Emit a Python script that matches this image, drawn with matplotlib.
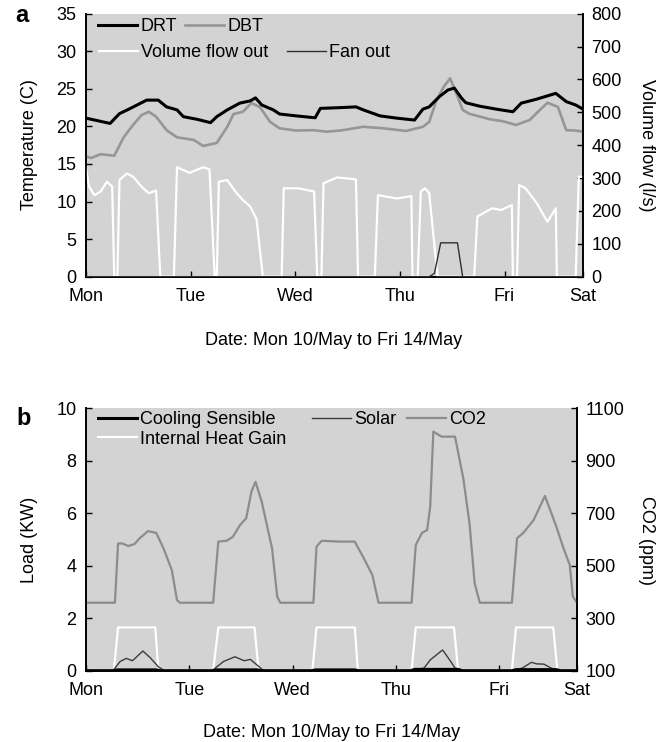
import matplotlib
matplotlib.use("Agg")
import matplotlib.pyplot as plt

# ---------------- data: panel a ----------------
drt_day = [0.0, 0.23, 0.32, 0.41, 0.58, 0.69, 0.77, 0.87, 0.93, 1.06, 1.19, 1.25, 1.35, 1.47, 1.57,
           1.62, 1.68, 1.79, 1.85, 2.01, 2.19, 2.24, 2.43, 2.58, 2.65, 2.81, 2.97, 3.14, 3.22, 3.28,
           3.38, 3.46, 3.52, 3.59, 3.63, 3.76, 3.92, 4.08, 4.16, 4.30, 4.49, 4.59, 4.68, 4.75]
drt_val = [21.1, 20.4, 21.7, 22.3, 23.5, 23.5, 22.6, 22.2, 21.3, 20.95, 20.5, 21.3, 22.2, 23.1, 23.4,
           23.8, 22.85, 22.2, 21.65, 21.4, 21.15, 22.4, 22.5, 22.6, 22.2, 21.4, 21.1, 20.85, 22.3, 22.6,
           24.0, 24.85, 25.1, 23.75, 23.15, 22.7, 22.3, 21.95, 23.1, 23.6, 24.4, 23.3, 22.85, 22.3]

dbt_day = [0.0, 0.05, 0.14, 0.27, 0.36, 0.45, 0.53, 0.60, 0.67, 0.77, 0.87, 1.03, 1.12, 1.25, 1.35,
           1.41, 1.50, 1.58, 1.66, 1.76, 1.85, 2.01, 2.17, 2.30, 2.43, 2.65, 2.84, 3.06, 3.22, 3.28,
           3.35, 3.42, 3.48, 3.54, 3.60, 3.66, 3.86, 3.98, 4.11, 4.24, 4.32, 4.41, 4.51, 4.59, 4.68, 4.75]
dbt_val = [16.0, 15.8, 16.3, 16.1, 18.55, 20.2, 21.5, 21.95, 21.3, 19.5, 18.55, 18.2, 17.4, 17.8, 19.95,
           21.65, 21.95, 23.1, 22.6, 20.6, 19.75, 19.45, 19.5, 19.3, 19.45, 19.95, 19.75, 19.4, 19.95, 20.6,
           23.5, 25.3, 26.4, 24.4, 22.2, 21.7, 20.95, 20.7, 20.2, 20.85, 21.95, 23.15, 22.6, 19.5, 19.45, 19.3]

flow_day = [0.0, 0.03, 0.08, 0.14, 0.20, 0.25, 0.27, 0.30, 0.32, 0.39, 0.45, 0.53, 0.60, 0.67, 0.71,
            0.84, 0.87, 0.99, 1.12, 1.18, 1.23, 1.25, 1.27, 1.35, 1.44, 1.50, 1.57, 1.63, 1.69,
            1.87, 1.89, 2.03, 2.18, 2.21, 2.25, 2.27, 2.40, 2.58, 2.60,
            2.76, 2.79, 2.97, 3.11, 3.12, 3.17, 3.20, 3.24, 3.28, 3.36,
            3.71, 3.74, 3.88, 3.97, 4.07, 4.08, 4.12, 4.14, 4.20, 4.31, 4.41, 4.49, 4.50,
            4.68, 4.71, 4.75]
flow_val = [330, 274, 248, 259, 289, 274, 0, 0, 294, 314, 304, 274, 254, 262, 0,
            0, 333, 316, 333, 326, 0, 0, 289, 294, 254, 233, 213, 175, 0,
            0, 269, 269, 259, 0, 0, 284, 302, 296, 0,
            0, 248, 238, 245, 0, 0, 259, 269, 254, 0,
            0, 183, 208, 203, 218, 0, 0, 279, 269, 223, 167, 208, 0,
            0, 304, 304]

fan_day = [0.0, 3.28, 3.33, 3.39, 3.55, 3.60, 4.75]
fan_val = [0, 0, 10, 103, 103, 0, 0]

# ---------------- data: panel b ----------------
co2_day = [0.0, 0.28, 0.31, 0.35, 0.41, 0.47, 0.52, 0.60, 0.68, 0.75, 0.83, 0.88, 0.91,
           1.23, 1.28, 1.36, 1.42, 1.49, 1.55, 1.60, 1.64, 1.70, 1.80, 1.85, 1.88,
           2.20, 2.23, 2.28, 2.46, 2.60, 2.68, 2.77, 2.83,
           3.15, 3.19, 3.25, 3.30, 3.33, 3.36, 3.44, 3.57, 3.65, 3.71, 3.76, 3.81,
           4.12, 4.17, 4.23, 4.33, 4.44, 4.55, 4.62, 4.68, 4.71, 4.75]
co2_val = [359, 359, 585, 585, 575, 583, 605, 632, 625, 566, 484, 369, 359,
           359, 592, 595, 610, 655, 681, 782, 820, 744, 566, 382, 359,
           359, 573, 595, 592, 592, 534, 465, 359,
           359, 579, 625, 636, 725, 1011, 992, 992, 833, 662, 433, 359,
           359, 605, 625, 674, 766, 649, 566, 503, 382, 359]

ihg_day = [0.0, 0.27, 0.31, 0.67, 0.70, 1.23, 1.28, 1.63, 1.67, 2.19, 2.23, 2.60, 2.63,
           3.15, 3.19, 3.56, 3.60, 4.12, 4.16, 4.52, 4.56, 4.75]
ihg_val = [0, 0, 1.65, 1.65, 0, 0, 1.65, 1.65, 0, 0, 1.65, 1.65, 0,
           0, 1.65, 1.65, 0, 0, 1.65, 1.65, 0, 0]

solar_day = [0.0, 0.26, 0.33, 0.39, 0.45, 0.55, 0.62, 0.70, 0.76,
             1.22, 1.33, 1.44, 1.53, 1.59, 1.66, 1.72,
             3.14, 3.20, 3.27, 3.33, 3.45, 3.52, 3.57, 3.65,
             4.14, 4.22, 4.31, 4.36, 4.43, 4.50, 4.57, 4.75]
solar_val = [0, 0, 0.35, 0.47, 0.38, 0.75, 0.5, 0.15, 0,
             0, 0.35, 0.53, 0.38, 0.43, 0.2, 0,
             0, 0.05, 0.1, 0.41, 0.79, 0.4, 0.1, 0,
             0, 0.1, 0.32, 0.26, 0.25, 0.1, 0, 0]

cool_day = [0.0, 0.27, 0.30, 0.68, 0.72, 1.22, 1.26, 1.66, 1.70, 2.18, 2.22, 2.60, 2.64,
            3.14, 3.18, 3.60, 3.64, 4.12, 4.16, 4.55, 4.59, 4.75]
cool_val = [0, 0, 0.03, 0.03, 0, 0, 0.03, 0.03, 0, 0, 0.03, 0.03, 0,
            0, 0.05, 0.05, 0, 0, 0.04, 0.04, 0, 0]

day_ticks = [0, 1, 2, 3, 4, 4.75]
day_labels = ["Mon", "Tue", "Wed", "Thu", "Fri", "Sat"]
xlabel_text = "Date: Mon 10/May to Fri 14/May"

# ---------------- figure ----------------
W, H = 670, 742
plt.rcParams['font.family'] = ['Liberation Sans', 'DejaVu Sans']
FS = 13
fig = plt.figure(figsize=(W / 100, H / 100), dpi=100)
BG = '#d3d3d3'


def rect(x0, y0, x1, y1):
    return [x0 / W, 1 - y1 / H, (x1 - x0) / W, (y1 - y0) / H]


def style(ax, right=False):
    ax.tick_params(direction='in', length=4, width=1, labelsize=FS, pad=7 if not right else 6)
    for s in ['left', 'right', 'bottom']:
        ax.spines[s].set_linewidth(1.2)
        ax.spines[s].set_color('black')
    ax.spines['top'].set_visible(False)


def leg(handle, label, x, y):
    lg = fig.legend([handle], [label], loc='center left', bbox_to_anchor=(x / W, 1 - y / H),
                    bbox_transform=fig.transFigure, frameon=False, borderpad=0, borderaxespad=0,
                    handlelength=2.17, handletextpad=0.17, fontsize=FS)
    return lg


# ---- panel a ----
axa = fig.add_axes(rect(86, 13.7, 583, 276.7))
axa.set_facecolor(BG)
axa2 = axa.twinx()
l_flow, = axa2.plot(flow_day, flow_val, color='white', lw=1.6, zorder=2)
l_fan, = axa2.plot(fan_day, fan_val, color='#303030', lw=1.0, zorder=3)
l_dbt, = axa.plot(dbt_day, dbt_val, color='#969696', lw=1.9, zorder=3)
l_drt, = axa.plot(drt_day, drt_val, color='black', lw=2.2, zorder=4)
axa.set_zorder(1)
axa2.set_zorder(2)
axa.set_xlim(0, 4.75)
axa.set_ylim(0, 35)
axa2.set_ylim(0, 800)
axa.set_xticks(day_ticks)
axa.set_xticklabels(day_labels)
axa.set_yticks(range(0, 36, 5))
axa2.set_yticks(range(0, 801, 100))
style(axa)
style(axa2, right=True)
axa.tick_params(axis='x', pad=8)

fig.text(22 / W, 1 - 22 / H, 'a', fontsize=17, fontweight='bold', ha='center', va='baseline')
fig.text(30 / W, 1 - 145 / H, 'Temperature (C)', fontsize=FS, rotation=90, ha='center', va='center')
fig.text(646 / W, 1 - 145 / H, 'Volume flow (l/s)', fontsize=FS, rotation=270, ha='center', va='center')
fig.text(334 / W, 1 - 345 / H, xlabel_text, fontsize=FS, ha='center', va='baseline')

leg(l_drt, 'DRT', 98, 26.7)
leg(l_dbt, 'DBT', 185, 26.7)
leg(l_flow, 'Volume flow out', 99, 52.5)
leg(l_fan, 'Fan out', 287, 52.5)

# ---- panel b ----
axb = fig.add_axes(rect(86, 408.3, 577, 670.7))
axb.set_facecolor(BG)
axb2 = axb.twinx()
l_ihg, = axb.plot(ihg_day, ihg_val, color='white', lw=1.6, zorder=2)
l_sol, = axb.plot(solar_day, solar_val, color='#3c3c3c', lw=1.0, zorder=3)
l_cool, = axb.plot(cool_day, cool_val, color='black', lw=2.2, zorder=4)
l_co2, = axb2.plot(co2_day, co2_val, color='#8c8c8c', lw=1.6, zorder=2)
axb.set_zorder(1)
axb2.set_zorder(2)
axb.set_xlim(0, 4.75)
axb.set_ylim(0, 10)
axb2.set_ylim(100, 1100)
axb.set_xticks(day_ticks)
axb.set_xticklabels(day_labels)
axb.set_yticks(range(0, 11, 2))
axb2.set_yticks(range(100, 1101, 200))
style(axb)
style(axb2, right=True)
axb.tick_params(axis='x', pad=8)

fig.text(24 / W, 1 - 425 / H, 'b', fontsize=17, fontweight='bold', ha='center', va='baseline')
fig.text(30 / W, 1 - 540 / H, 'Load (KW)', fontsize=FS, rotation=90, ha='center', va='center')
fig.text(646 / W, 1 - 540 / H, 'CO2 (ppm)', fontsize=FS, rotation=270, ha='center', va='center')
fig.text(332 / W, 1 - 737 / H, xlabel_text, fontsize=FS, ha='center', va='baseline')

leg(l_cool, 'Cooling Sensible', 98, 419.5)
leg(l_sol, 'Solar', 312, 419.5)
leg(l_co2, 'CO2', 407, 419.5)
leg(l_ihg, 'Internal Heat Gain', 98, 439)

fig.savefig('out.png', dpi=100)
